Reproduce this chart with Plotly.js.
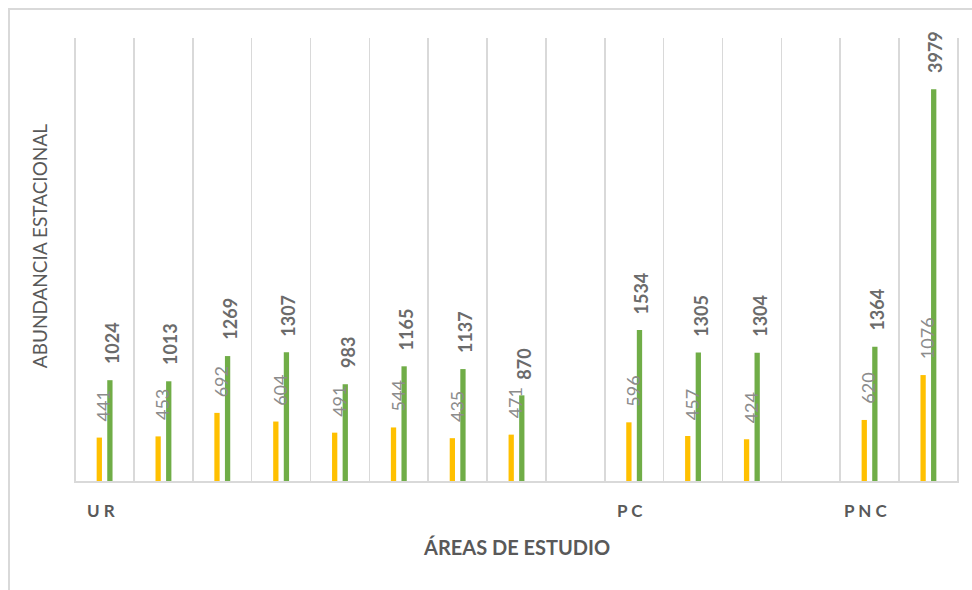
<!DOCTYPE html>
<html>
<head>
<meta charset="utf-8">
<script src="https://cdn.plot.ly/plotly-3.0.1.min.js"></script>
<style>
html,body{margin:0;padding:0;background:#fff;}
#frame{position:absolute;left:8px;top:8px;width:980px;height:600px;border-left:2px solid #d9d9d9;border-top:2px solid #d9d9d9;}
#chart{position:absolute;left:0;top:0;width:972px;height:590px;}
</style>
</head>
<body>
<div id="frame"></div>
<div id="chart"></div>
<script>
// 15 category slots (two are empty separators between groups)
const slots = [0,1,2,3,4,5,6,7,8,9,10,11,12,13,14];
const yellowValues = [441,453,692,604,491,544,435,471,null,596,457,424,null,620,1076];
const greenValues  = [1024,1013,1269,1307,983,1165,1137,870,null,1534,1305,1304,null,1364,3979];
const groupLabels = ['U R','P C','P N C'];
const groupSlots = [0,9,13];

const barW = 0.09;
const off = 0.09;

const traces = [
  {type:'bar', x:slots, y:yellowValues, width:barW, offset:-off-barW/2,
   marker:{color:'#FFC000'}, hoverinfo:'y'},
  {type:'bar', x:slots, y:greenValues, width:barW, offset:off-barW/2,
   marker:{color:'#70AD47'}, hoverinfo:'y'}
];

const annotations = [];
slots.forEach((s,i)=>{
  if (yellowValues[i] != null) {
    annotations.push({x:s-off, y:yellowValues[i], xref:'x', yref:'y', text:String(yellowValues[i]),
      showarrow:false, textangle:-90, xanchor:'center', yanchor:'bottom', xshift:4, yshift:14,
      font:{family:'Lato, "Open Sans", sans-serif', size:18, color:'#8c8c8c'}});
  }
  if (greenValues[i] != null) {
    annotations.push({x:s+off, y:greenValues[i], xref:'x', yref:'y', text:'<b>'+greenValues[i]+'</b>',
      showarrow:false, textangle:-90, xanchor:'center', yanchor:'bottom', xshift:2, yshift:14,
      font:{family:'Lato, "Open Sans", sans-serif', size:18, color:'#6b6b6b'}});
  }
});
groupLabels.forEach((g,i)=>{
  annotations.push({x:groupSlots[i], y:0, xref:'x', yref:'paper', text:'<b>'+g+'</b>',
    showarrow:false, xanchor:'center', yanchor:'top', xshift:-4, yshift:-17,
    font:{family:'Lato, "Open Sans", sans-serif', size:17, color:'#595959'}});
});
annotations.push({x:0.5, y:0, xref:'paper', yref:'paper', text:'<b>ÁREAS DE ESTUDIO</b>',
  showarrow:false, xanchor:'center', yanchor:'top', yshift:-52,
  font:{family:'Lato, "Open Sans", sans-serif', size:20, color:'#595959'}});
annotations.push({x:0, y:0.53, xref:'paper', yref:'paper', text:'ABUNDANCIA ESTACIONAL',
  showarrow:false, textangle:-90, xanchor:'center', yanchor:'middle', xshift:-35,
  font:{family:'Lato, "Open Sans", sans-serif', size:19, color:'#595959'}});

const gridVals = [];
for (let i=0;i<=slots.length;i++) gridVals.push(i-0.5);

const layout = {
  width:972, height:590,
  margin:{l:74, r:13, t:38, b:109},
  paper_bgcolor:'rgba(0,0,0,0)', plot_bgcolor:'rgba(0,0,0,0)',
  showlegend:false,
  barmode:'overlay',
  xaxis:{range:[-0.52,14.52], tickvals:gridVals, ticktext:gridVals.map(()=>''), showgrid:true,
    gridcolor:'#d9d9d9', gridwidth:1.5, zeroline:false, showline:true, linecolor:'#d9d9d9', linewidth:2,
    ticks:'', fixedrange:true},
  yaxis:{range:[0,4500], showgrid:false, zeroline:false, showticklabels:false, showline:false, ticks:''},
  annotations:annotations
};

Plotly.newPlot('chart', traces, layout, {displayModeBar:false, staticPlot:true});
</script>
</body>
</html>
